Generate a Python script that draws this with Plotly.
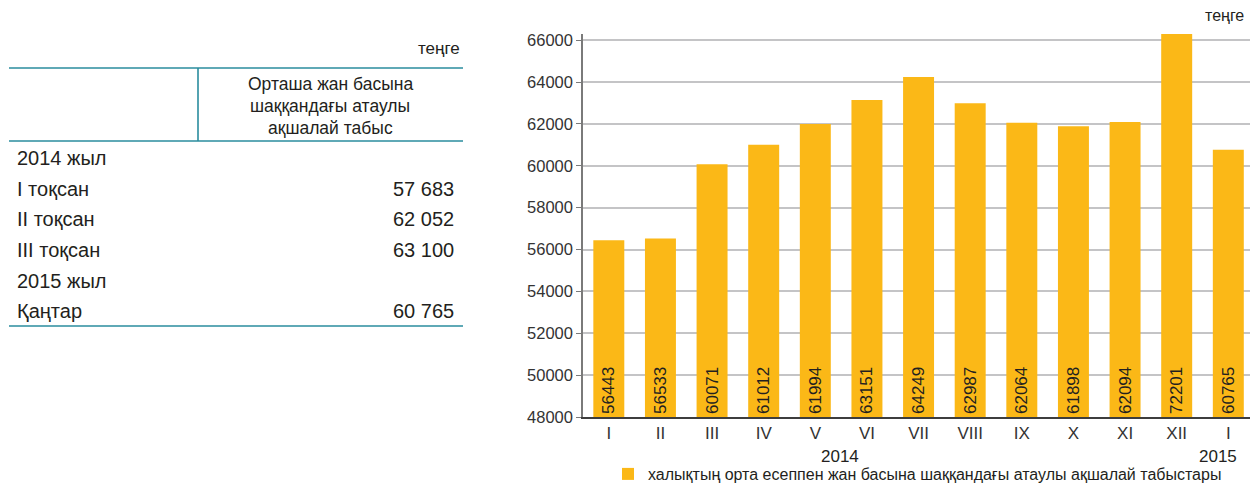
import plotly.graph_objects as go

# ---------------- data ----------------
months = ["I", "II", "III", "IV", "V", "VI", "VII", "VIII", "IX", "X", "XI", "XII", "I"]
income = [56443, 56533, 60071, 61012, 61994, 63151, 64249, 62987, 62064, 61898, 62094, 72201, 60765]
year_labels = ["2014", "2015"]
series_name = "халықтың орта есеппен жан басына шаққандағы атаулы ақшалай табыстары"
unit = "теңге"

table_header = ["Орташа жан басына", "шаққандағы атаулы", "ақшалай табыс"]
table_rows = ["2014 жыл", "I тоқсан", "II тоқсан", "III тоқсан", "2015 жыл", "Қаңтар"]
table_values = ["", "57 683", "62 052", "63 100", "", "60 765"]

# ---------------- layout helpers ----------------
W, H = 1250, 484
PLOT_TOP, PLOT_BOT = 34, 417
PLOT_LEFT = 583
BASE = 48000
Y_MAX = 66300
FONT = "Liberation Sans, Arial, sans-serif"
TXT = "#231f20"
TEAL = "#2a8c9e"
BAR = "#fbb817"


def px(x):
    return x / W


def py(y):
    return (PLOT_BOT - y) / (PLOT_BOT - PLOT_TOP)


x_idx = list(range(len(months)))

fig = go.Figure()
fig.add_trace(go.Bar(
    x=x_idx,
    y=[v - BASE for v in income],
    base=BASE,
    name=series_name,
    marker=dict(color=BAR, line=dict(width=0)),
    width=0.6,
    text=[str(v) for v in income],
    textposition="inside",
    insidetextanchor="start",
    textangle=-90,
    textfont=dict(size=17, color=TXT, family=FONT),
    cliponaxis=True,
    showlegend=True,
))

annotations = []
shapes = []

# chart annotations
annotations.append(dict(text=unit, x=px(1246), y=py(16), xref="paper", yref="paper",
                        xanchor="right", yanchor="middle", showarrow=False,
                        font=dict(size=16, color=TXT, family=FONT)))
annotations.append(dict(text=year_labels[0], x=px(840), y=py(456), xref="paper", yref="paper",
                        xanchor="center", yanchor="middle", showarrow=False,
                        font=dict(size=17, color=TXT, family=FONT)))
annotations.append(dict(text=year_labels[1], x=px(1218), y=py(456), xref="paper", yref="paper",
                        xanchor="center", yanchor="middle", showarrow=False,
                        font=dict(size=17, color=TXT, family=FONT)))

# ---------------- left table ----------------
annotations.append(dict(text=unit, x=px(462), y=py(49), xref="paper", yref="paper",
                        xanchor="right", yanchor="middle", showarrow=False,
                        font=dict(size=17, color=TXT, family=FONT)))
for i, line in enumerate(table_header):
    annotations.append(dict(text=line, x=px(330), y=py(84 + 22 * i), xref="paper", yref="paper",
                            xanchor="center", yanchor="middle", showarrow=False,
                            font=dict(size=17.5, color=TXT, family=FONT)))
row_y = [158, 189, 219, 250, 281, 311]
for lab, val, yy in zip(table_rows, table_values, row_y):
    annotations.append(dict(text=lab, x=px(15), y=py(yy), xref="paper", yref="paper",
                            xanchor="left", yanchor="middle", showarrow=False,
                            font=dict(size=20, color=TXT, family=FONT)))
    if val:
        annotations.append(dict(text=val, x=px(456), y=py(yy), xref="paper", yref="paper",
                                xanchor="right", yanchor="middle", showarrow=False,
                                font=dict(size=20, color=TXT, family=FONT)))
for yy in [68, 141, 326]:
    shapes.append(dict(type="line", xref="paper", yref="paper",
                       x0=px(9), x1=px(463), y0=py(yy), y1=py(yy),
                       line=dict(color=TEAL, width=1.6)))
shapes.append(dict(type="line", xref="paper", yref="paper",
                   x0=px(198), x1=px(198), y0=py(68), y1=py(141),
                   line=dict(color=TEAL, width=1.6)))

fig.update_layout(
    width=W, height=H,
    margin=dict(l=0, r=0, t=PLOT_TOP, b=H - PLOT_BOT, autoexpand=False),
    paper_bgcolor="white",
    plot_bgcolor="white",
    font=dict(family=FONT, color=TXT),
    bargap=0.4,
    xaxis=dict(
        domain=[px(PLOT_LEFT), 1.0],
        range=[-0.5, 12.42],
        tickmode="array",
        tickvals=x_idx,
        ticktext=months,
        showline=True, linecolor="#3d3d3d", linewidth=1.5,
        ticks="", showgrid=False, zeroline=False,
        tickfont=dict(size=17, color="#333333", family=FONT),
        fixedrange=True,
    ),
    yaxis=dict(
        range=[BASE, Y_MAX],
        tickmode="array",
        tickvals=list(range(48000, 66001, 2000)),
        ticktext=[str(v) for v in range(48000, 66001, 2000)],
        showline=True, linecolor="#7a7a7a", linewidth=1.5,
        ticks="outside", ticklen=5, tickcolor="#7a7a7a", tickwidth=1.2,
        showgrid=True, gridcolor="#c4c4c6", gridwidth=2,
        zeroline=False,
        tickfont=dict(size=16.5, color="#333333", family=FONT),
        fixedrange=True,
    ),
    showlegend=True,
    legend=dict(
        orientation="h",
        x=px(608), y=py(474),
        xanchor="left", yanchor="middle",
        font=dict(size=16, color=TXT, family=FONT),
        bgcolor="rgba(0,0,0,0)",
        itemclick=False, itemdoubleclick=False,
    ),
    annotations=annotations,
    shapes=shapes,
)

fig.write_html(
    "out.html",
    config={"displayModeBar": False},
    post_script="document.body.style.margin='0px';document.body.style.padding='0px';",
)
